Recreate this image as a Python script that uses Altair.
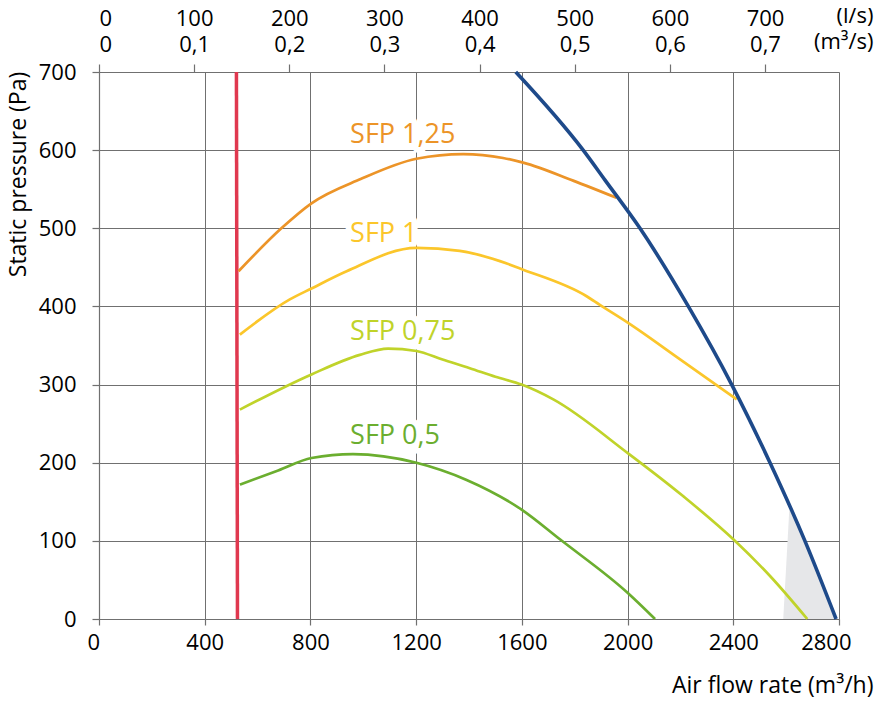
import altair as alt
import pandas as pd

# ---- tick values / labels ----
flow_ticks = [0, 400, 800, 1200, 1600, 2000, 2400, 2800]          # m3/h
pressure_ticks = [0, 100, 200, 300, 400, 500, 600, 700]           # Pa
ls_ticks = [0, 100, 200, 300, 400, 500, 600, 700]                 # l/s (top axis)

# ---- curves ----
red_flow = [520, 524]
red_pressure = [700, 0]

blue_flow = [1577, 1832, 1914, 2047, 2230, 2394, 2539, 2671, 2789]
blue_pressure = [700, 600, 562, 500, 400, 300, 200, 100, 0]

sfp125_flow = [528, 690, 804, 990, 1201, 1378, 1529, 1605, 1794, 1958]
sfp125_pressure = [445, 500, 532, 563, 589, 595, 590, 584, 561, 539]

sfp1_flow = [533, 722, 804, 937, 1201, 1365, 1517, 1605, 1845, 1895, 2002, 2200, 2413]
sfp1_pressure = [364, 409, 423, 445, 475, 471, 458, 447, 413, 402, 379, 332, 281]

sfp075_flow = [533, 804, 987, 1094, 1201, 1300, 1403, 1500, 1599, 1719, 2002, 2211, 2400, 2539, 2680]
sfp075_pressure = [268, 313, 338, 346, 343, 332, 321, 310, 300, 281, 212, 157, 102, 55, 0]

sfp05_flow = [533, 678, 804, 961, 1201, 1391, 1599, 1744, 2002, 2104]
sfp05_pressure = [172, 190, 206, 211, 200, 178, 140, 102, 33, 0]

shade_flow = [2589, 2612, 2671, 2789]
shade_pressure = [0, 140, 100, 0]

sfp_labels = ["SFP 1,25", "SFP 1", "SFP 0,75", "SFP 0,5"]
sfp_label_flow = [950, 950, 950, 950]
sfp_label_pressure = [609, 483, 357, 224]
sfp_colors = ["#ec9428", "#fbc62b", "#c0d32a", "#6bae2f"]

FONT = "Open Sans"
GRAY = "#707070"

xscale = alt.Scale(domain=[0, 2800], nice=False, zero=True)
yscale = alt.Scale(domain=[0, 700], nice=False, zero=True)


def frame(fx, fy):
    return pd.DataFrame({"flow": fx, "pressure": fy})


bottom_axis = alt.Axis(
    orient="bottom", values=flow_ticks, format="d",
    grid=True, gridColor=GRAY, gridWidth=1,
    domainColor=GRAY, domainWidth=1.2, tickColor=GRAY, tickSize=6, tickWidth=1.2,
    labelFont=FONT, labelFontSize=22, labelColor="black", labelPadding=7,
    labelFlush=True, labelFlushOffset=12,
    title="Air flow rate (m³/h)", titleFont=FONT, titleFontSize=23,
    titleFontWeight="normal", titleColor="black",
    titleX=774, titleY=73, titleAlign="right", titleBaseline="alphabetic",
)

top_axis = alt.Axis(
    orient="top", values=[v * 3.6 for v in ls_ticks],
    labelExpr="[format(datum.value/3.6, 'd'), replace(format(datum.value/3600, '.1~f'), '.', ',')]",
    grid=False, domain=False, tickColor=GRAY, tickSize=8, tickWidth=1.2,
    labelFont=FONT, labelFontSize=22, labelColor="black",
    labelBaseline="alphabetic", labelPadding=39,
    labelLineHeight=26,
    title=["(l/s)", "(m³/s)"], titleFont=FONT, titleFontSize=22,
    titleFontWeight="normal", titleColor="black", titleLineHeight=26,
    titleX=774, titleY=-50, titleAlign="right", titleBaseline="alphabetic",
)

left_axis = alt.Axis(
    values=pressure_ticks, format="d",
    grid=True, gridColor=GRAY, gridWidth=1,
    domainColor=GRAY, domainWidth=1.2, tickColor=GRAY, tickSize=7, tickWidth=1.2,
    labelFont=FONT, labelFontSize=22, labelColor="black", labelPadding=16,
    title="Static pressure (Pa)", titleFont=FONT, titleFontSize=23,
    titleFontWeight="normal", titleColor="black",
    titleX=-74, titleY=102, titleAngle=270, titleAlign="center",
    titleBaseline="alphabetic",
)

# shaded region (carries the bottom and left axes)
shade = alt.Chart(frame(shade_flow, shade_pressure)).mark_area(
    color="#e6e7e9", opacity=1
).encode(
    x=alt.X("flow:Q", scale=xscale, axis=bottom_axis),
    y=alt.Y("pressure:Q", scale=yscale, axis=left_axis),
)

labels_df = pd.DataFrame({
    "label": sfp_labels, "flow": sfp_label_flow, "pressure": sfp_label_pressure,
})

# white knock-out behind the SFP labels (breaks the grid like the original)
halo = alt.Chart(labels_df).mark_text(
    font=FONT, fontSize=27, align="left", baseline="alphabetic",
    stroke="white", strokeWidth=12, strokeJoin="round", fill="white",
).encode(
    x=alt.X("flow:Q", scale=xscale, axis=None),
    y=alt.Y("pressure:Q", scale=yscale, axis=None),
    text="label:N",
)

# red line (carries the top axis)
red = alt.Chart(frame(red_flow, red_pressure)).mark_line(
    color="#e0384f", strokeWidth=3.5
).encode(
    x=alt.X("flow:Q", scale=xscale, axis=top_axis),
    y=alt.Y("pressure:Q", scale=yscale, axis=None),
    order=alt.Order("pressure:Q"),
)

layers = [shade, halo, red]

curves = [
    (sfp05_flow, sfp05_pressure, sfp_colors[3], 2.7),
    (sfp075_flow, sfp075_pressure, sfp_colors[2], 2.7),
    (sfp1_flow, sfp1_pressure, sfp_colors[1], 2.7),
    (sfp125_flow, sfp125_pressure, sfp_colors[0], 2.7),
    (blue_flow, blue_pressure, "#1e4a8a", 3.6),
]
for fx, fy, col, w in curves:
    layers.append(
        alt.Chart(frame(fx, fy)).mark_line(
            color=col, strokeWidth=w, interpolate="monotone"
        ).encode(
            x=alt.X("flow:Q", scale=xscale, axis=None),
            y=alt.Y("pressure:Q", scale=yscale, axis=None),
        )
    )

texts = alt.Chart(labels_df).mark_text(
    font=FONT, fontSize=27, align="left", baseline="alphabetic",
).encode(
    x=alt.X("flow:Q", scale=xscale, axis=None),
    y=alt.Y("pressure:Q", scale=yscale, axis=None),
    text="label:N",
    color=alt.Color("label:N", scale=alt.Scale(domain=sfp_labels, range=sfp_colors), legend=None),
)

layers.append(texts)

chart = alt.layer(*layers).resolve_axis(x="independent", y="independent").properties(
    width=740,
    height=547,
    padding={"left": 91, "top": 64, "right": 35, "bottom": 79},
    autosize=alt.AutoSizeParams(type="none"),
).configure_view(stroke=None).configure(background="white")

chart.save("out.html", embed_options={"renderer": "svg", "actions": False})
